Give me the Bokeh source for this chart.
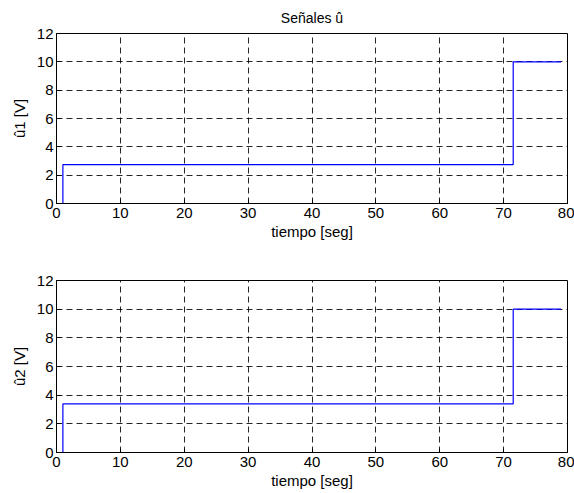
from bokeh.plotting import figure
from bokeh.layouts import column
from bokeh.models import Range1d, LinearAxis, FixedTicker
from bokeh.embed import file_html
from bokeh.resources import INLINE

# data
t = [0, 1, 71.5, 79]
u1 = [0, 2.74, 10, 10]
u2 = [0, 3.39, 10, 10]
x_ticks = [0, 10, 20, 30, 40, 50, 60, 70, 80]
y_ticks = [0, 2, 4, 6, 8, 10, 12]
title_text = "Señales û"
xlabel = "tiempo [seg]"
ylabels = ["û1 [V]", "û2 [V]"]

FONT = "Liberation Sans"


def make(yvals, ylabel, top_border, bottom_border, height, title=None):
    p = figure(width=574, height=height, output_backend="svg", toolbar_location=None,
               x_range=Range1d(0, 80), y_range=Range1d(0, 12),
               min_border_left=56, min_border_right=7,
               min_border_top=top_border, min_border_bottom=bottom_border,
               x_axis_location=None, y_axis_location=None)
    if title:
        p.title.text = title
        p.title.align = "center"
        p.title.text_font = FONT
        p.title.text_font_size = "14px"
        p.title.text_font_style = "normal"
        p.title.text_color = "black"
        p.title.offset = 0
        p.title.standoff = 15
    xa = LinearAxis(axis_label=xlabel, ticker=FixedTicker(ticks=x_ticks))
    ya = LinearAxis(axis_label=ylabel, ticker=FixedTicker(ticks=y_ticks))
    for ax in (xa, ya):
        ax.major_tick_in = 4
        ax.major_tick_out = 0
        ax.minor_tick_in = 0
        ax.minor_tick_out = 0
        ax.axis_line_color = "black"
        ax.major_tick_line_color = "black"
        ax.major_label_text_font = FONT
        ax.major_label_text_font_size = "15px"
        ax.major_label_text_color = "black"
        ax.axis_label_text_font = FONT
        ax.axis_label_text_font_size = "15px"
        ax.axis_label_text_font_style = "normal"
        ax.axis_label_text_color = "black"
    xa.major_label_standoff = 4
    xa.axis_label_standoff = 2
    ya.major_label_standoff = 3
    ya.axis_label_standoff = 6
    p.add_layout(xa, "below")
    p.add_layout(ya, "left")
    p.xgrid.ticker = FixedTicker(ticks=x_ticks)
    p.ygrid.ticker = FixedTicker(ticks=y_ticks)
    for g in (p.xgrid, p.ygrid):
        g.grid_line_color = "black"
        g.grid_line_dash = "6 4"
        g.grid_line_width = 1
        g.grid_line_alpha = 0.85
    p.outline_line_color = "black"
    p.outline_line_width = 1
    p.outline_line_alpha = 1
    p.background_fill_color = "white"
    p.border_fill_color = "white"
    p.step(t, yvals, mode="after", line_color="#0000ff", line_width=1.2)
    return p


p1 = make(u1, ylabels[0], 32, 44, 247, title=title_text)
p2 = make(u2, ylabels[1], 33, 41, 246)
layout = column(p1, p2, spacing=0)

open("out.html", "w").write(file_html(layout, INLINE))
